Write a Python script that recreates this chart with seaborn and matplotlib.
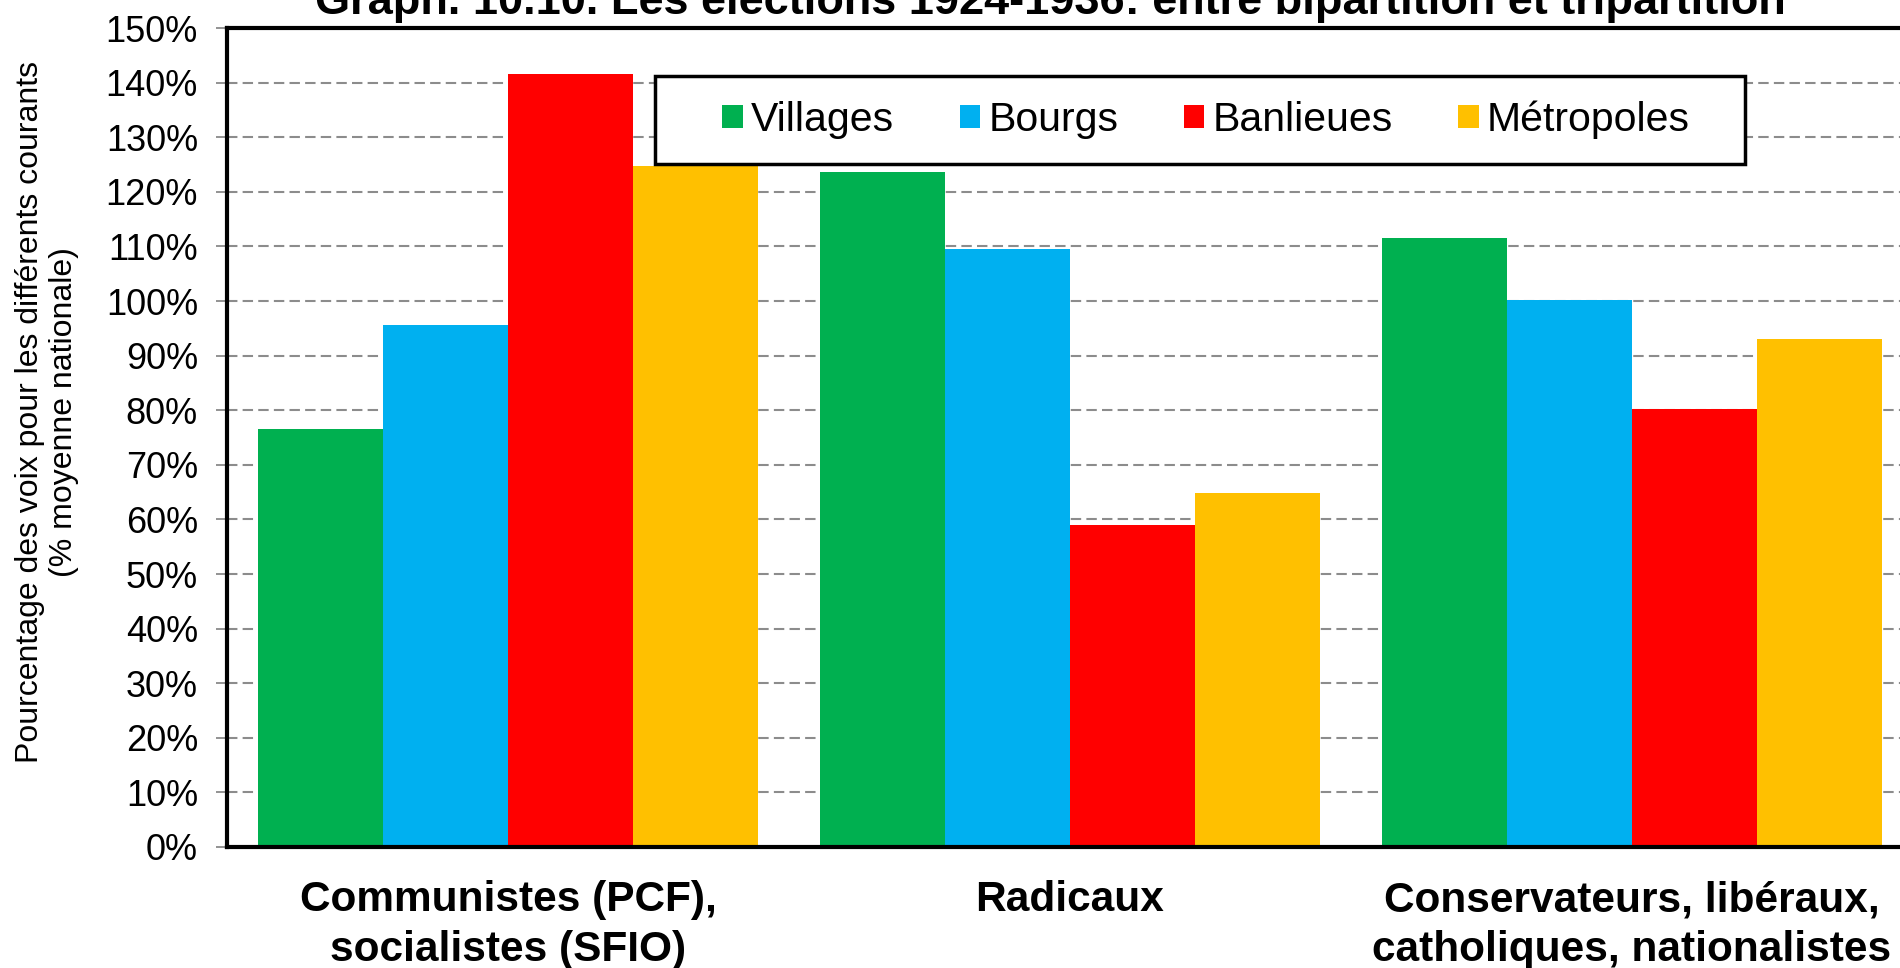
import numpy as np
import pandas as pd
import seaborn as sns
import matplotlib.pyplot as plt
from matplotlib.patches import Rectangle

# values (percent of the national average)
courants = ["Communistes (PCF),\nsocialistes (SFIO)", "Radicaux",
            "Conservateurs, libéraux,\ncatholiques, nationalistes"]
zones = ["Villages", "Bourgs", "Banlieues", "Métropoles"]
villages = [76.6, 123.7, 111.5]
bourgs = [95.6, 109.5, 100.2]
banlieues = [141.6, 59.0, 80.3]
metropoles = [124.7, 64.8, 93.0]
couleurs = ["#00B050", "#00B0F0", "#FF0000", "#FFC000"]
y_ticks = list(range(0, 151, 10))

titre = "Graph. 10.10. Les élections 1924-1936: entre bipartition et tripartition"
y_titre = "Pourcentage des voix pour les différents courants\n(% moyenne nationale)"

df = pd.DataFrame({
    "courant": courants * 4,
    "zone": np.repeat(zones, 3),
    "valeur": villages + bourgs + banlieues + metropoles,
})

sns.set_style("white")
plt.rcParams["font.family"] = ["Liberation Sans", "DejaVu Sans"]
plt.rcParams["text.color"] = "black"
plt.rcParams["xtick.labelcolor"] = "black"
plt.rcParams["ytick.labelcolor"] = "black"

fig = plt.figure(figsize=(19, 9.68), dpi=100)
ax = fig.add_axes([0.1195, 0.125, 0.8873, 0.846])
sns.barplot(data=df, x="courant", y="valeur", hue="zone", order=courants,
            hue_order=zones, palette=couleurs, saturation=1, width=0.89,
            errorbar=None, linewidth=0, ax=ax)

ax.set_xlim(-0.5, 2.5)
ax.set_ylim(0, 150)
ax.set_yticks(y_ticks)
ax.set_yticklabels(["{}%".format(t) for t in y_ticks], fontsize=26)
ax.set_xticks(range(len(courants)))
ax.set_xticklabels(courants, fontsize=30.5, fontweight="bold", linespacing=1.3)
ax.set_xticks([-0.5, 0.5, 1.5, 2.5], minor=True)
ax.tick_params(axis="x", which="major", length=0, pad=24)
ax.tick_params(axis="x", which="minor", length=8, width=1, color="#808080",
               direction="out")
ax.tick_params(axis="y", length=8, width=1.2, color="#808080",
               direction="out", pad=13, left=True)
ax.set_xlabel("")
ax.set_ylabel("")

ax.set_axisbelow(True)
ax.yaxis.grid(True, linestyle=(0, (5, 2.5)), color="#8C8C8C", linewidth=1.5)
ax.xaxis.grid(False)
for side in ["left", "top", "bottom", "right"]:
    ax.spines[side].set_visible(True)
    ax.spines[side].set_color("black")
    ax.spines[side].set_linewidth(3)

# legend box drawn separately: wider side padding than matplotlib allows
ax.add_patch(Rectangle((0.2541, 0.8344), 0.6462, 0.1066,
                       transform=ax.transAxes, facecolor="white",
                       edgecolor="black", linewidth=2.5, zorder=4.5,
                       clip_on=False))
leg = ax.legend(loc="center", bbox_to_anchor=(0.5807, 0.8877), ncol=4,
                fontsize=29.5, frameon=False, handlelength=0.5,
                handleheight=0.5, handletextpad=0.2, columnspacing=1.6,
                borderpad=0.2)
leg.set_zorder(5)

fig.text(0.553, 0.9855, titre, ha="center", va="baseline", fontsize=32.5,
         fontweight="bold")
fig.text(0.0247, 0.574, y_titre, ha="center", va="center", rotation=90,
         fontsize=23, linespacing=1.2)

fig.savefig("out.png", dpi=100)
